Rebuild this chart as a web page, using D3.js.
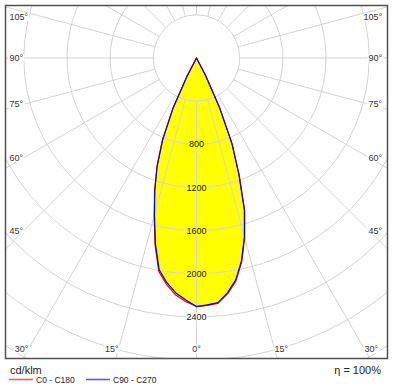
<!DOCTYPE html>
<html><head><meta charset="utf-8">
<script src="https://cdn.jsdelivr.net/npm/d3@7"></script>
<style>html,body{margin:0;padding:0;background:#fff;}svg{display:block;}</style>
</head><body>
<svg id="c" width="395" height="391"></svg>
<script>
// ---- data ----
const gammaAngles = [0, 2.5, 5, 7.5, 10, 12.5, 15, 17.5, 20, 22.5, 25, 27.5, 30];
const c0Values   = [2303, 2295, 2282, 2205, 2100, 1935, 1725, 1485, 1158, 866, 505, 182, 0]; // C0 (right half)
const c180Values = [2303, 2260, 2205, 2118, 2010, 1775, 1515, 1292, 1072, 826, 525, 192, 0]; // C180 (left half)
const c90Values  = [2303, 2290, 2275, 2195, 2090, 1925, 1715, 1475, 1148, 858, 500, 180, 0]; // C90 (right half)
const c270Values = [2303, 2245, 2187, 2100, 1992, 1760, 1505, 1285, 1066, 820, 520, 190, 0]; // C270 (left half)
const ringValues = [400, 800, 1200, 1600, 2000, 2400, 2800, 3200, 3600, 4000, 4400];
const ringLabels = [800, 1200, 1600, 2000, 2400];
const angleTicks = [0, 15, 30, 45, 60, 75, 90, 105];
const seriesNames = ["C0 - C180", "C90 - C270"];
const seriesColors = ["#ff0000", "#0000ff"];
const unitLabel = "cd/klm";
const efficiencyLabel = "η = 100%";

// ---- layout ----
const svg = d3.select("#c");
const frame = {x0: 5.5, y0: 5.5, x1: 387.5, y1: 358.5};
const cx = 196.5, cy = 58;
const r = d3.scaleLinear().domain([0, 2400]).range([0, 259]);
const rad = d => d * Math.PI / 180;
const pt = (g, v, s) => [cx + s * r(v) * Math.sin(rad(g)), cy + r(v) * Math.cos(rad(g))];

svg.append("defs").append("clipPath").attr("id", "clip")
  .append("rect").attr("x", frame.x0).attr("y", frame.y0)
  .attr("width", frame.x1 - frame.x0).attr("height", frame.y1 - frame.y0);

function curvePoints(left, right) {
  const pts = [];
  for (let i = gammaAngles.length - 1; i >= 0; i--) pts.push(pt(gammaAngles[i], left[i], -1));
  for (let i = 1; i < gammaAngles.length; i++) pts.push(pt(gammaAngles[i], right[i], 1));
  return pts;
}
const curves = [curvePoints(c180Values, c0Values), curvePoints(c270Values, c90Values)];
const line = d3.line().curve(d3.curveLinearClosed);

// fill
const fillG = svg.append("g").attr("clip-path", "url(#clip)");
curves.forEach(c => fillG.append("path").attr("d", line(c)).attr("fill", "#ffff00").attr("stroke", "none"));

// grid
const grid = svg.append("g").attr("clip-path", "url(#clip)")
  .attr("fill", "none").attr("stroke", "#d3d3d3").attr("stroke-width", 1);
ringValues.forEach(v => grid.append("circle").attr("cx", cx).attr("cy", cy).attr("r", r(v)));
d3.range(0, 360, 15).forEach(a => {
  const p1 = [cx + r(400) * Math.sin(rad(a)), cy + r(400) * Math.cos(rad(a))];
  const p2 = [cx + 700 * Math.sin(rad(a)), cy + 700 * Math.cos(rad(a))];
  grid.append("line").attr("x1", p1[0]).attr("y1", p1[1]).attr("x2", p2[0]).attr("y2", p2[1]);
});

// curves
curves.forEach((c, i) => svg.append("path").attr("d", line(c))
  .attr("fill", "none").attr("stroke", seriesColors[i]).attr("stroke-width", 1.2)
  .attr("stroke-linejoin", "round"));

// ring labels
const font = "'Liberation Sans', Arial, sans-serif";
ringLabels.forEach(v => {
  const y = cy + r(v);
  const t = svg.append("text").attr("x", cx).attr("y", y).attr("dy", "0.35em")
    .attr("text-anchor", "middle").attr("font-family", font).attr("font-size", 9)
    .attr("fill", "#111").text(v);
  const bb = t.node().getBBox();
  svg.insert("rect", () => t.node()).attr("x", bb.x - 1).attr("y", bb.y + 1)
    .attr("width", bb.width + 2).attr("height", bb.height - 2)
    .attr("fill", v < c0Values[0] ? "#ffff00" : "#ffffff");
});

// angle labels
const inset = {l: 24, r: 369, b: 349, t: 17};
angleTicks.forEach(g => {
  const sides = g === 0 ? [0] : [-1, 1];
  sides.forEach(s => {
    let x, y, anchor;
    const sn = Math.sin(rad(g)), cs = Math.cos(rad(g));
    const half = s < 0 ? cx - inset.l : inset.r - cx;
    let bottom = false;
    if (cs > 0) {
      const dxB = (inset.b - cy) / cs * sn;
      if (dxB <= half) { bottom = true; x = cx + s * dxB; y = inset.b; }
    }
    if (!bottom) {
      y = Math.max(inset.t, cy + half * cs / sn);
      x = s < 0 ? 9.5 : 382;
      anchor = s < 0 ? "start" : "end";
    } else {
      anchor = s === 0 ? "middle" : (s < 0 ? "end" : "start");
    }
    const t = svg.append("text").attr("x", x).attr("y", y).attr("dy", "0.35em")
      .attr("text-anchor", anchor).attr("font-family", font).attr("font-size", 9)
      .attr("fill", "#333").text(g + "°");
    const bb = t.node().getBBox();
    svg.insert("rect", () => t.node()).attr("x", bb.x - 1).attr("y", bb.y + 1)
      .attr("width", bb.width + 2).attr("height", bb.height - 2).attr("fill", "#fff");
  });
});

// frame
svg.append("rect").attr("x", frame.x0).attr("y", frame.y0)
  .attr("width", frame.x1 - frame.x0).attr("height", frame.y1 - frame.y0)
  .attr("fill", "none").attr("stroke", "#505050").attr("stroke-width", 1.5);

// footer
svg.append("text").attr("x", 10).attr("y", 373.5).attr("font-family", font)
  .attr("font-size", 11).attr("fill", "#222").text(unitLabel);
svg.append("text").attr("x", 381).attr("y", 373.5).attr("text-anchor", "end")
  .attr("font-family", font).attr("font-size", 11).attr("fill", "#222").text(efficiencyLabel);
const legendX = [9, 86];
seriesNames.forEach((n, i) => {
  svg.append("line").attr("x1", legendX[i]).attr("x2", legendX[i] + 24)
    .attr("y1", 379.5).attr("y2", 379.5).attr("stroke", seriesColors[i])
    .attr("stroke-opacity", 0.65).attr("stroke-width", 1.6);
  svg.append("text").attr("x", legendX[i] + 27).attr("y", 383.2).attr("font-family", font)
    .attr("font-size", 8.5).attr("fill", "#222").text(n);
});
</script>
</body></html>
